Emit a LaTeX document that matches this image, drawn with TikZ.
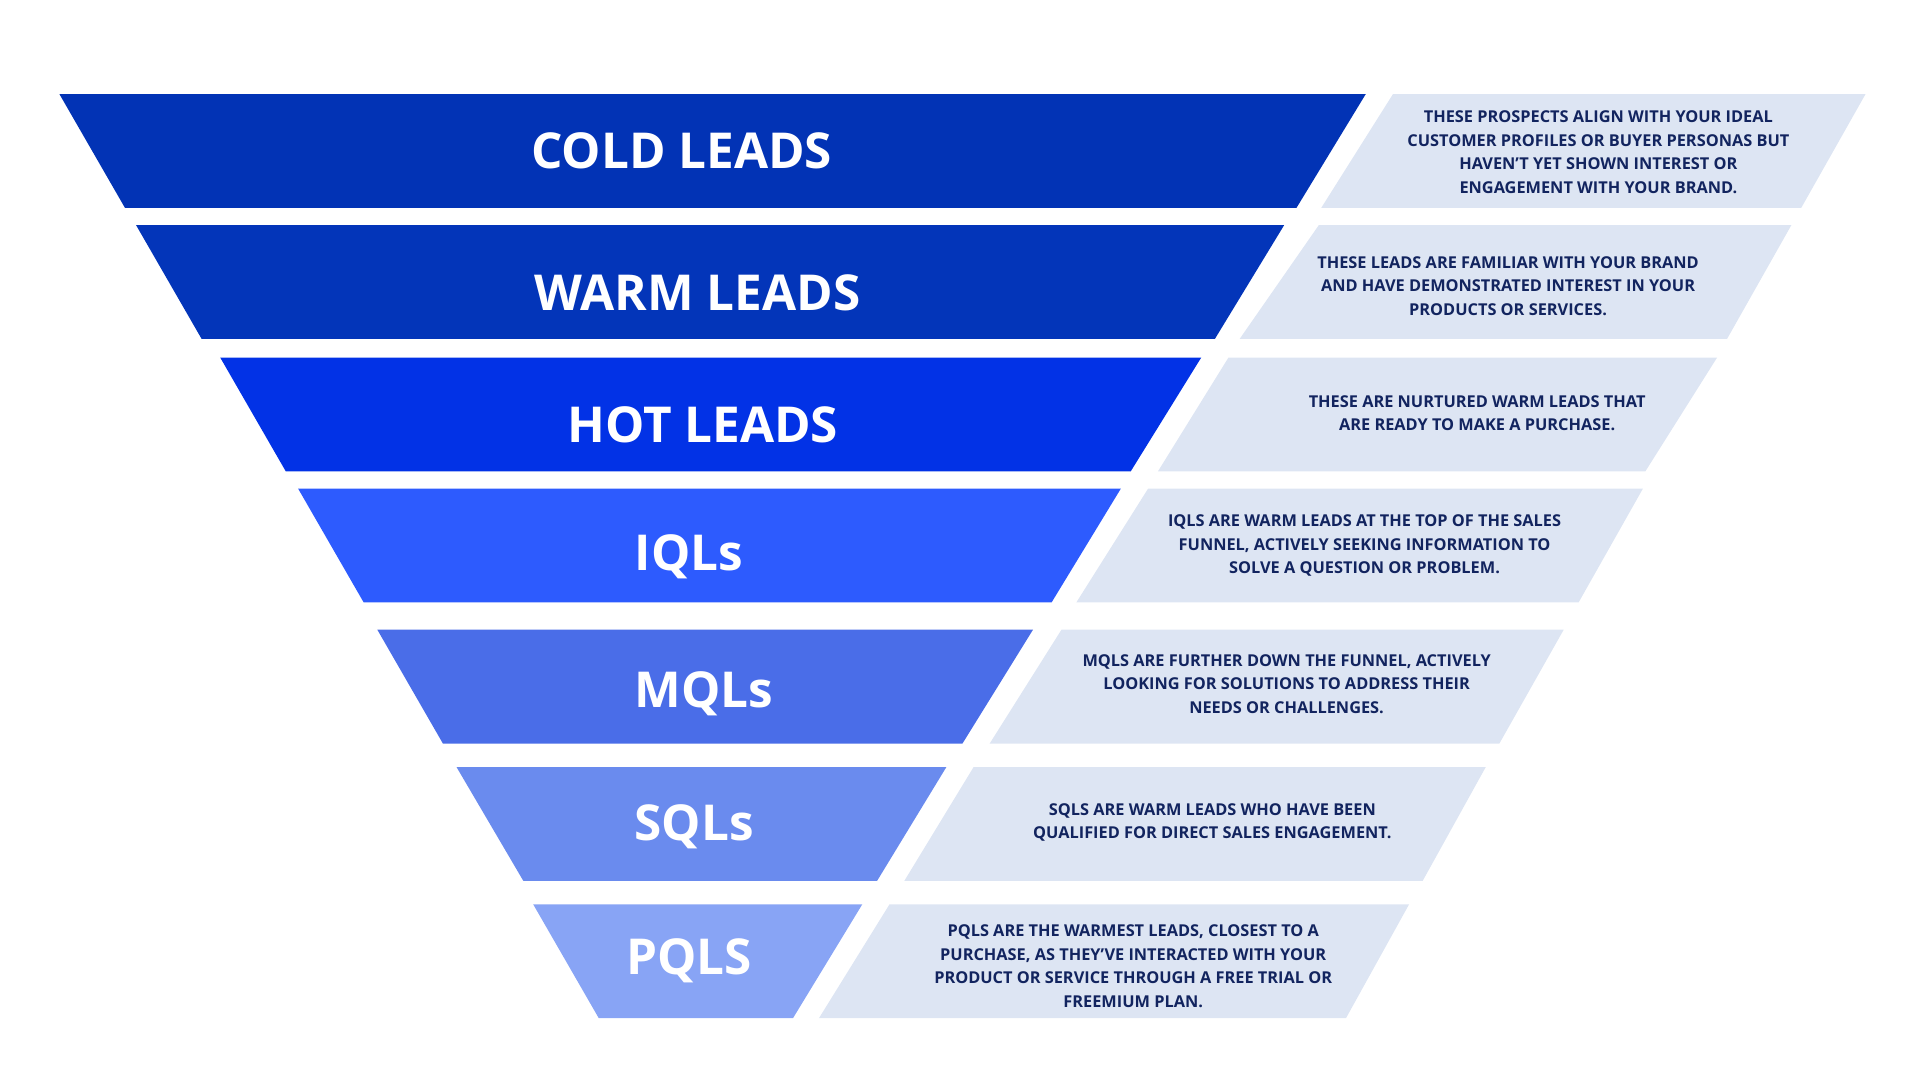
\documentclass[tikz,border=0pt]{standalone}
\usepackage{fontspec}
\setmainfont{Open Sans}
\begin{document}
\begin{tikzpicture}[x=1pt,y=-1pt,
 title/.style={text=white,font=\fontsize{40}{44}\selectfont\bfseries,anchor=center},
 desc/.style={text=navy,font=\fontsize{13.2}{19}\selectfont\bfseries,align=center,anchor=center},
 panel/.style={fill=panelc,draw=none}]
\definecolor{navy}{HTML}{12245F}
\definecolor{panelc}{HTML}{DDE5F3}
\definecolor{c1}{HTML}{0233B5}
\definecolor{c2}{HTML}{0335B9}
\definecolor{c3}{HTML}{0232E6}
\definecolor{c4}{HTML}{2D5BFE}
\definecolor{c5}{HTML}{4A6DE8}
\definecolor{c6}{HTML}{6A8BEE}
\definecolor{c7}{HTML}{88A4F5}
\useasboundingbox (0,0) rectangle (1552,873);
% row: ytop ybot lt rt lb rb | pt prt pb prb
\newcommand{\funrow}[9]{%
 \fill[#9] (#3,#1) -- (#4,#1) -- (#6,#2) -- (#5,#2) -- cycle;}
\funrow{76}{168}{48}{1104}{101}{1048}{}{}{c1}
\funrow{182}{274}{110}{1038}{163}{982}{}{}{c2}
\funrow{289}{381}{178}{971}{231}{914}{}{}{c3}
\funrow{395}{487}{241}{906}{294}{850}{}{}{c4}
\funrow{509}{601}{305}{835}{358}{778}{}{}{c5}
\funrow{620}{712}{369}{765}{423}{709}{}{}{c6}
\funrow{731}{823}{431}{697}{484}{641}{}{}{c7}
\fill[panel] (1126,76) -- (1508,76) -- (1456,168) -- (1068,168) -- cycle;
\fill[panel] (1066,182) -- (1448,182) -- (1396,274) -- (1002,274) -- cycle;
\fill[panel] (993,289) -- (1388,289) -- (1330,381) -- (936,381) -- cycle;
\fill[panel] (928,395) -- (1328,395) -- (1276,487) -- (870,487) -- cycle;
\fill[panel] (858,509) -- (1264,509) -- (1212,601) -- (800,601) -- cycle;
\fill[panel] (787,620) -- (1201,620) -- (1150,712) -- (731,712) -- cycle;
\fill[panel] (719,731) -- (1139,731) -- (1088,823) -- (662,823) -- cycle;
\node[title] (t1) at (551,122) {COLD LEADS};
\node[title] (t2) at (564,237) {WARM LEADS};
\node[title] (t3) at (568,343) {HOT LEADS};
\node[title] (t4) at (557,450) {IQLs};
\node[title] (t5) at (569,561) {MQLs};
\node[title] (t6) at (561,668) {SQLs};
\node[title] (t7) at (557,777) {PQLS};
\node[desc] (d1) at (1292,123) {THESE PROSPECTS ALIGN WITH YOUR IDEAL\\CUSTOMER PROFILES OR BUYER PERSONAS BUT\\HAVEN'T YET SHOWN INTEREST OR\\ENGAGEMENT WITH YOUR BRAND.};
\node[desc] (d2) at (1219,231) {THESE LEADS ARE FAMILIAR WITH YOUR BRAND\\AND HAVE DEMONSTRATED INTEREST IN YOUR\\PRODUCTS OR SERVICES.};
\node[desc] (d3) at (1194,334) {THESE ARE NURTURED WARM LEADS THAT\\ARE READY TO MAKE A PURCHASE.};
\node[desc] (d4) at (1103,441) {IQLS ARE WARM LEADS AT THE TOP OF THE SALES\\FUNNEL, ACTIVELY SEEKING INFORMATION TO\\SOLVE A QUESTION OR PROBLEM.};
\node[desc] (d5) at (1040,553) {MQLS ARE FURTHER DOWN THE FUNNEL, ACTIVELY\\LOOKING FOR SOLUTIONS TO ADDRESS THEIR\\NEEDS OR CHALLENGES.};
\node[desc] (d6) at (980,665) {SQLS ARE WARM LEADS WHO HAVE BEEN\\QUALIFIED FOR DIRECT SALES ENGAGEMENT.};
\node[desc] (d7) at (916,781) {PQLS ARE THE WARMEST LEADS, CLOSEST TO A\\PURCHASE, AS THEY'VE INTERACTED WITH YOUR\\PRODUCT OR SERVICE THROUGH A FREE TRIAL OR\\FREEMIUM PLAN.};
\end{tikzpicture}
\end{document}
